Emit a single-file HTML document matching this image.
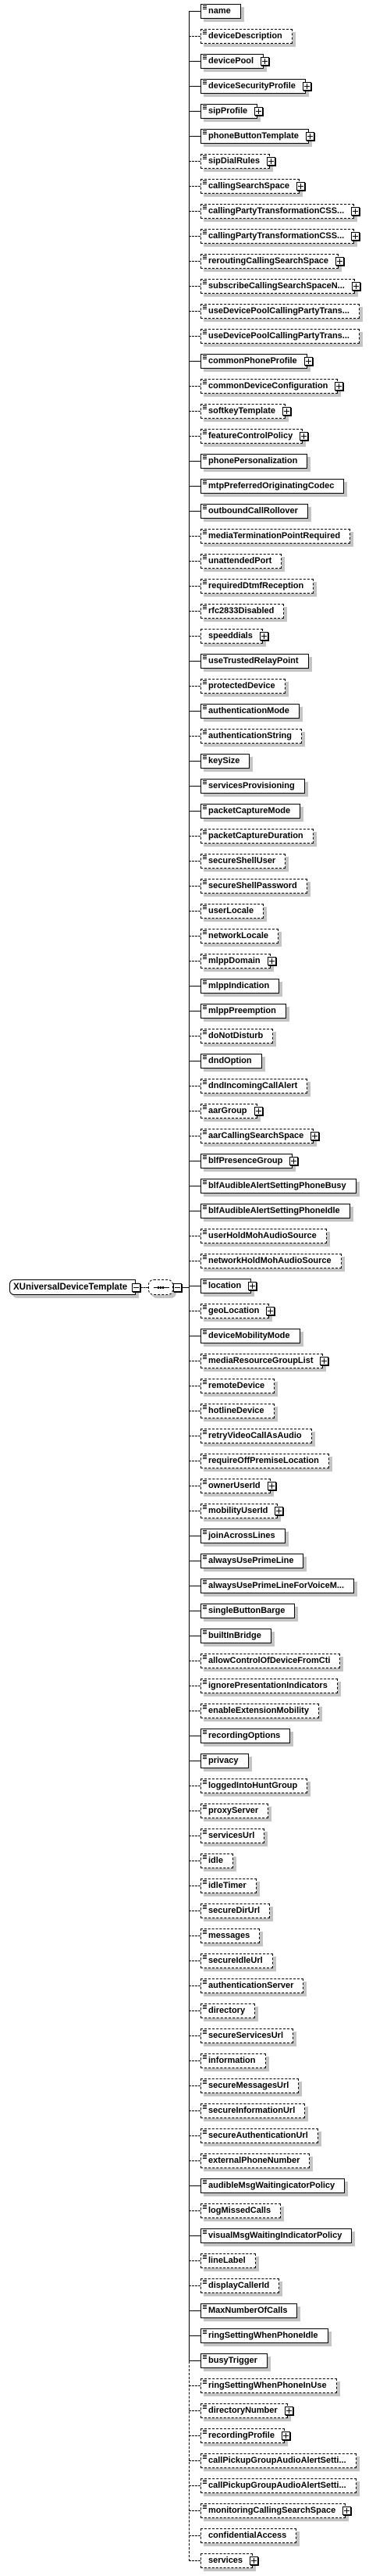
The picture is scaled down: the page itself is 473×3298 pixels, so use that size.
<!DOCTYPE html>
<html><head><meta charset="utf-8"><style>
html,body{margin:0;padding:0;background:#fff;}
body{width:473px;height:3298px;position:relative;overflow:hidden;font-family:"Liberation Sans",Arial,sans-serif;}
.e{position:absolute;left:257px;height:17px;line-height:17px;border:1px solid #000;background:#fff;padding:0 12px 0 9px;font-size:11px;font-weight:bold;white-space:nowrap;box-shadow:4px 4px 0 #c4c4c4;color:#000;}
.e.d{border-style:dashed;}
.e::before{content:"";position:absolute;left:2px;top:1px;width:5px;height:1px;background:#000;box-shadow:0 2px 0 #000,0 4px 0 #000;}
.e.n::before{display:none;}
.e::after{content:"";position:absolute;left:-16px;top:8px;width:15px;border-top:1px solid #000;}
.e.d::after{border-top-style:dashed;}
.p{position:absolute;right:-8px;top:3px;width:9px;height:9px;border:1px solid #000;background:#fff;box-shadow:1px 1px 0 #000;}
.p::before{content:"";position:absolute;left:1px;top:4px;width:7px;height:1px;background:#000;}
.p::after{content:"";position:absolute;left:4px;top:1px;width:1px;height:7px;background:#000;}
.m{position:absolute;width:9px;height:9px;border:1px solid #000;background:#fff;box-shadow:1px 1px 0 #000;}
.m::before{content:"";position:absolute;left:1px;top:4px;width:7px;height:1px;background:#000;}
</style></head><body>
<div style="position:absolute;left:242px;top:15px;width:1px;height:3008px;background:#000"></div>
<div style="position:absolute;left:242px;top:3023px;height:256px;border-left:1px dashed #000"></div>

<div style="position:absolute;left:12px;top:1638px;width:160px;height:18px;line-height:18px;border:1px solid #000;border-radius:6px 0 0 6px;background:#fff;box-shadow:4px 4px 0 #c4c4c4;font-size:11.5px;font-weight:bold;padding-left:4px;box-sizing:border-box;width:162px;height:20px;white-space:nowrap">XUniversalDeviceTemplate</div>
<div class="m" style="left:169px;top:1643px"></div>
<div style="position:absolute;left:180px;top:1648px;width:10px;border-top:1px dashed #000"></div>
<div style="position:absolute;left:190px;top:1638px;width:30px;height:18px;border:1px dashed #000;border-radius:7px;background:#fff;box-shadow:4px 4px 0 #c4c4c4"></div>
<div style="position:absolute;left:197px;top:1648px;width:20px;height:1px;background:#000"></div>
<div style="position:absolute;left:202px;top:1647px;width:2px;height:3px;background:#000;box-shadow:3px 0 0 #000,6px 0 0 #000"></div>
<div class="m" style="left:222px;top:1643px"></div>
<div style="position:absolute;left:233px;top:1648px;width:9px;height:1px;background:#000"></div>

<div class="e" style="top:5px">name</div>
<div class="e d" style="top:37px">deviceDescription</div>
<div class="e" style="top:69px">devicePool<span class="p"></span></div>
<div class="e" style="top:101px">deviceSecurityProfile<span class="p"></span></div>
<div class="e" style="top:133px">sipProfile<span class="p"></span></div>
<div class="e" style="top:165px">phoneButtonTemplate<span class="p"></span></div>
<div class="e d" style="top:197px">sipDialRules<span class="p"></span></div>
<div class="e d" style="top:229px">callingSearchSpace<span class="p"></span></div>
<div class="e d" style="top:261px">callingPartyTransformationCSS...<span class="p"></span></div>
<div class="e d" style="top:293px">callingPartyTransformationCSS...<span class="p"></span></div>
<div class="e d" style="top:325px">reroutingCallingSearchSpace<span class="p"></span></div>
<div class="e d" style="top:357px">subscribeCallingSearchSpaceN...<span class="p"></span></div>
<div class="e d" style="top:389px">useDevicePoolCallingPartyTrans...</div>
<div class="e d" style="top:421px">useDevicePoolCallingPartyTrans...</div>
<div class="e" style="top:453px">commonPhoneProfile<span class="p"></span></div>
<div class="e d" style="top:485px">commonDeviceConfiguration<span class="p"></span></div>
<div class="e d" style="top:517px">softkeyTemplate<span class="p"></span></div>
<div class="e d" style="top:549px">featureControlPolicy<span class="p"></span></div>
<div class="e" style="top:581px">phonePersonalization</div>
<div class="e" style="top:613px">mtpPreferredOriginatingCodec</div>
<div class="e" style="top:645px">outboundCallRollover</div>
<div class="e d" style="top:677px">mediaTerminationPointRequired</div>
<div class="e d" style="top:709px">unattendedPort</div>
<div class="e d" style="top:741px">requiredDtmfReception</div>
<div class="e d" style="top:773px">rfc2833Disabled</div>
<div class="e d n" style="top:805px">speeddials<span class="p"></span></div>
<div class="e" style="top:837px">useTrustedRelayPoint</div>
<div class="e d" style="top:869px">protectedDevice</div>
<div class="e" style="top:901px">authenticationMode</div>
<div class="e d" style="top:933px">authenticationString</div>
<div class="e" style="top:965px">keySize</div>
<div class="e" style="top:997px">servicesProvisioning</div>
<div class="e" style="top:1029px">packetCaptureMode</div>
<div class="e d" style="top:1061px">packetCaptureDuration</div>
<div class="e d" style="top:1093px">secureShellUser</div>
<div class="e d" style="top:1125px">secureShellPassword</div>
<div class="e d" style="top:1157px">userLocale</div>
<div class="e d" style="top:1189px">networkLocale</div>
<div class="e d" style="top:1221px">mlppDomain<span class="p"></span></div>
<div class="e" style="top:1253px">mlppIndication</div>
<div class="e" style="top:1285px">mlppPreemption</div>
<div class="e d" style="top:1317px">doNotDisturb</div>
<div class="e" style="top:1349px">dndOption</div>
<div class="e d" style="top:1381px">dndIncomingCallAlert</div>
<div class="e d" style="top:1413px">aarGroup<span class="p"></span></div>
<div class="e d" style="top:1445px">aarCallingSearchSpace<span class="p"></span></div>
<div class="e" style="top:1477px">blfPresenceGroup<span class="p"></span></div>
<div class="e" style="top:1509px">blfAudibleAlertSettingPhoneBusy</div>
<div class="e" style="top:1541px">blfAudibleAlertSettingPhoneIdle</div>
<div class="e d" style="top:1573px">userHoldMohAudioSource</div>
<div class="e d" style="top:1605px">networkHoldMohAudioSource</div>
<div class="e" style="top:1637px">location<span class="p"></span></div>
<div class="e d" style="top:1669px">geoLocation<span class="p"></span></div>
<div class="e" style="top:1701px">deviceMobilityMode</div>
<div class="e d" style="top:1733px">mediaResourceGroupList<span class="p"></span></div>
<div class="e d" style="top:1765px">remoteDevice</div>
<div class="e d" style="top:1797px">hotlineDevice</div>
<div class="e d" style="top:1829px">retryVideoCallAsAudio</div>
<div class="e d" style="top:1861px">requireOffPremiseLocation</div>
<div class="e d" style="top:1893px">ownerUserId<span class="p"></span></div>
<div class="e d" style="top:1925px">mobilityUserId<span class="p"></span></div>
<div class="e" style="top:1957px">joinAcrossLines</div>
<div class="e" style="top:1989px">alwaysUsePrimeLine</div>
<div class="e" style="top:2021px">alwaysUsePrimeLineForVoiceM...</div>
<div class="e" style="top:2053px">singleButtonBarge</div>
<div class="e" style="top:2085px">builtInBridge</div>
<div class="e d" style="top:2117px">allowControlOfDeviceFromCti</div>
<div class="e d" style="top:2149px">ignorePresentationIndicators</div>
<div class="e d" style="top:2181px">enableExtensionMobility</div>
<div class="e" style="top:2213px">recordingOptions</div>
<div class="e" style="top:2245px">privacy</div>
<div class="e d" style="top:2277px">loggedIntoHuntGroup</div>
<div class="e d" style="top:2309px">proxyServer</div>
<div class="e d" style="top:2341px">servicesUrl</div>
<div class="e d" style="top:2373px">idle</div>
<div class="e d" style="top:2405px">idleTimer</div>
<div class="e d" style="top:2437px">secureDirUrl</div>
<div class="e d" style="top:2469px">messages</div>
<div class="e d" style="top:2501px">secureIdleUrl</div>
<div class="e d" style="top:2533px">authenticationServer</div>
<div class="e d" style="top:2565px">directory</div>
<div class="e d" style="top:2597px">secureServicesUrl</div>
<div class="e d" style="top:2629px">information</div>
<div class="e d" style="top:2661px">secureMessagesUrl</div>
<div class="e d" style="top:2693px">secureInformationUrl</div>
<div class="e d" style="top:2725px">secureAuthenticationUrl</div>
<div class="e d" style="top:2757px">externalPhoneNumber</div>
<div class="e" style="top:2789px">audibleMsgWaitingicatorPolicy</div>
<div class="e d" style="top:2821px">logMissedCalls</div>
<div class="e" style="top:2853px">visualMsgWaitingIndicatorPolicy</div>
<div class="e d" style="top:2885px">lineLabel</div>
<div class="e d" style="top:2917px">displayCallerId</div>
<div class="e" style="top:2949px">MaxNumberOfCalls</div>
<div class="e" style="top:2981px">ringSettingWhenPhoneIdle</div>
<div class="e" style="top:3013px">busyTrigger</div>
<div class="e d" style="top:3045px">ringSettingWhenPhoneInUse</div>
<div class="e d" style="top:3077px">directoryNumber<span class="p"></span></div>
<div class="e d" style="top:3109px">recordingProfile<span class="p"></span></div>
<div class="e d" style="top:3141px">callPickupGroupAudioAlertSetti...</div>
<div class="e d" style="top:3173px">callPickupGroupAudioAlertSetti...</div>
<div class="e d" style="top:3205px">monitoringCallingSearchSpace<span class="p"></span></div>
<div class="e d n" style="top:3237px">confidentialAccess</div>
<div class="e d n" style="top:3269px">services<span class="p"></span></div>
</body></html>
